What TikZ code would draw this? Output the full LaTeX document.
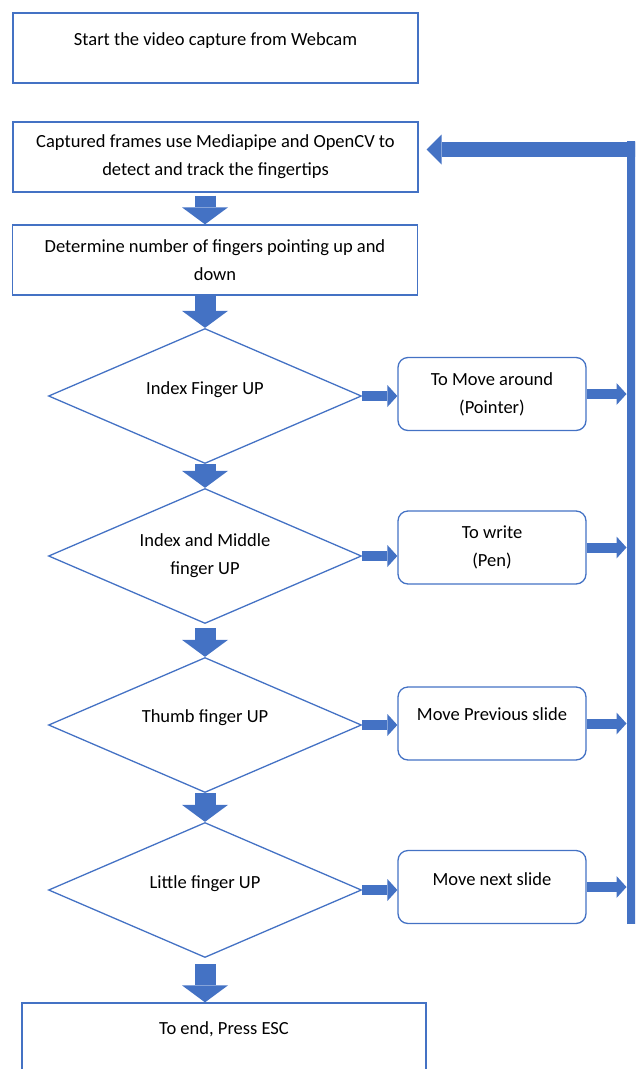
\documentclass[tikz,border=0pt]{standalone}
\usepackage{fontspec}
\setmainfont{Carlito}
\usetikzlibrary{shapes.geometric,arrows.meta}
\definecolor{msblue}{HTML}{4472C4}

\begin{document}
\begin{tikzpicture}[x=1pt,y=-1pt,
  font=\fontsize{18.5}{28}\selectfont,
  box/.style={draw=msblue,line width=1.3pt,minimum width=405pt,minimum height=70pt,align=center,inner sep=2pt},
  rbox/.style={draw=msblue,line width=1.3pt,rounded corners=10pt,minimum width=188pt,minimum height=73pt,align=center},
  dia/.style={draw=msblue,line width=1.3pt,diamond,aspect=2.3,minimum width=313pt,minimum height=135pt,align=center,inner sep=0pt},
  lift/.style={text depth=#1},
  down/.style={msblue,line width=21pt,-{Triangle[width=46pt,length=17pt,line width=0pt]}},
  side/.style={msblue,line width=10pt,-{Triangle[width=22pt,length=10pt,line width=0pt]}},
  back/.style={msblue,line width=15pt,-{Triangle[width=30pt,length=15pt,line width=0pt]}}]
\clip (0,0) rectangle (635,1069);

\node[box,lift=18pt] (start) at (215.5,48) {Start the video capture from Webcam};
\node[box] (capture) at (215.5,157) {Captured frames use Mediapipe and OpenCV to\\detect and track the fingertips};
\node[box] (count) at (215,260) {Determine number of fingers pointing up and\\down};

\node[dia,lift=16pt] (index) at (205,396) {Index Finger UP};
\node[dia] (middle) at (205,556) {Index and Middle\\finger UP};
\node[dia,lift=18pt] (thumb) at (205,725) {Thumb finger UP};
\node[dia,lift=16pt] (little) at (205,890) {Little finger UP};

\node[rbox] (pointer) at (492,394) {To Move around\\(Pointer)};
\node[rbox] (pen) at (492,547.5) {To write\\(Pen)};
\node[rbox,lift=18pt] (prev) at (492,723.5) {Move Previous slide};
\node[rbox,lift=16pt] (next) at (492,887) {Move next slide};

\node[box,minimum width=404pt,minimum height=80pt,lift=30pt] (stop) at (224,1043) {To end, Press ESC};

\draw[down,shorten <=3pt] (index.north |- capture.south) -- (index.north |- count.north);
\draw[down] (index.north |- count.south) -- (index.north);
\draw[down] (index.south) -- (middle.north);
\draw[down,shorten <=4pt] (middle.south) -- (thumb.north);
\draw[down] (thumb.south) -- (little.north);
\draw[down,shorten <=6pt] (little.south) -- (little.south |- stop.north);

\draw[side] (index.east) -- (index.east -| pointer.west);
\draw[side] (middle.east) -- (middle.east -| pen.west);
\draw[side] (thumb.east) -- (thumb.east -| prev.west);
\draw[side] (little.east) -- (little.east -| next.west);

\coordinate (fbbot) at (631,924);
\coordinate (fbtop) at (631,141);
\coordinate (fbcorner) at (636,149.5);
\draw[msblue,line width=9pt] (fbbot) -- (fbtop);
\draw[back,shorten >=8pt] (fbcorner) -- (fbcorner -| capture.east);

\draw[side,shorten >=4.5pt] (pointer.east) -- (pointer.east -| fbbot);
\draw[side,shorten >=4.5pt] (pen.east) -- (pen.east -| fbbot);
\draw[side,shorten >=4.5pt] (prev.east) -- (prev.east -| fbbot);
\draw[side,shorten >=4.5pt] (next.east) -- (next.east -| fbbot);
\end{tikzpicture}
\end{document}
